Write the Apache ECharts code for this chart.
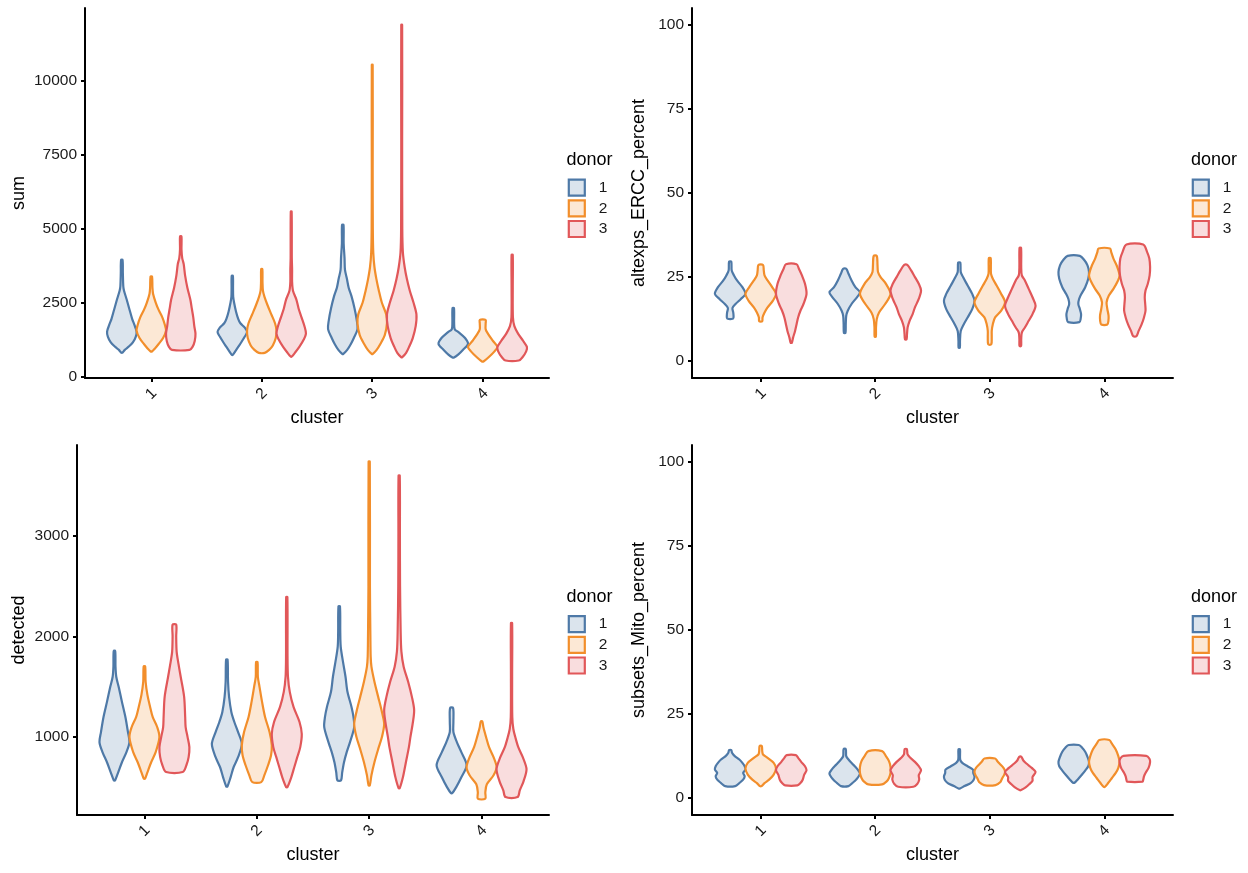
<!DOCTYPE html>
<html><head><meta charset="utf-8">
<script src="https://cdn.jsdelivr.net/npm/echarts@6/dist/echarts.min.js"></script>
<style>html,body{margin:0;padding:0;background:#fff}#c{width:1248px;height:873px}</style>
</head><body><div id="c"></div>
<script>
const clusters = ['1','2','3','4'];
const donors = ['1','2','3'];
const lineColors = ['#4E79A7','#F28E2B','#E15759'];
const fillColors = ['#DBE4ED','#FCE8D5','#F9DDDE'];
const yNames = ['sum','altexps_ERCC_percent','detected','subsets_Mito_percent'];
const yTicks = [[0,2500,5000,7500,10000],[0,25,50,75,100],[1000,2000,3000],[0,25,50,75,100]];
const yRanges = [[-50,12450],[-5,105],[225,3905],[-5,105]];

// violin outlines per cluster: [value, relative half-width]
const sumDonor1 = [
 [[811,0.05],[900,0.2],[1000,0.45],[1150,0.75],[1350,0.95],[1520,1],[1750,0.85],[1950,0.7],[2300,0.5],[2600,0.33],[2900,0.15],[3050,0.1],[3500,0.07],[3942,0.05]],
 [[733,0.04],[850,0.2],[1000,0.4],[1150,0.6],[1350,0.85],[1500,1],[1650,0.85],[1800,0.55],[1950,0.4],[2200,0.25],[2500,0.12],[2700,0.06],[3000,0.05],[3400,0.04]],
 [[767,0.04],[900,0.3],[1100,0.55],[1300,0.75],[1600,1],[1900,0.95],[2300,0.8],[2700,0.6],[3000,0.4],[3300,0.28],[3600,0.15],[4000,0.12],[4500,0.06],[5124,0.05]],
 [[642,0.05],[750,0.35],[900,0.65],[1100,1],[1300,0.8],[1500,0.35],[1600,0.1],[1800,0.06],[2310,0.05]]
];
const sumDonor2 = [
 [[845,0.04],[950,0.25],[1100,0.5],[1300,0.8],[1550,1],[1750,0.92],[2000,0.75],[2250,0.5],[2500,0.3],[2800,0.12],[3000,0.08],[3378,0.05]],
 [[800,0.2],[900,0.5],[1050,0.75],[1300,0.95],[1550,1],[1800,0.9],[2100,0.65],[2400,0.4],[2700,0.18],[2900,0.08],[3200,0.05],[3628,0.04]],
 [[767,0.04],[900,0.3],[1100,0.55],[1400,0.85],[1800,1],[2100,0.95],[2500,0.65],[2900,0.45],[3300,0.28],[3700,0.15],[4200,0.07],[5000,0.04],[7000,0.03],[10529,0.03]],
 [[507,0.05],[650,0.4],[850,0.8],[1000,1],[1200,0.7],[1450,0.35],[1600,0.2],[1800,0.2],[1915,0.2]]
];
const sumDonor3 = [
 [[900,0.6],[1000,0.8],[1200,0.95],[1450,1],[1700,0.92],[2000,0.85],[2300,0.75],[2600,0.65],[3000,0.45],[3400,0.3],[3800,0.2],[4000,0.1],[4300,0.05],[4730,0.05]],
 [[676,0.04],[800,0.25],[1000,0.55],[1250,0.85],[1450,1],[1700,0.9],[2000,0.7],[2300,0.5],[2600,0.35],[2900,0.12],[3200,0.06],[3600,0.06],[4000,0.04],[5574,0.03]],
 [[655,0.04],[800,0.3],[1000,0.5],[1300,0.75],[1700,0.95],[2100,1],[2500,0.8],[2900,0.55],[3300,0.35],[3700,0.2],[4200,0.08],[5000,0.04],[8000,0.03],[11880,0.03]],
 [[540,0.45],[650,0.7],[850,0.95],[1000,1],[1200,0.75],[1450,0.4],[1700,0.15],[2000,0.05],[3000,0.04],[4111,0.04]]
];
const ercDonor1 = [
 [[12.7,0.2],[13.5,0.22],[14.5,0.2],[15.8,0.15],[17,0.35],[18.5,0.7],[20,1],[22,0.8],[24,0.45],[25.5,0.25],[27,0.1],[29.6,0.07]],
 [[8.4,0.05],[11,0.07],[13.5,0.1],[15,0.2],[17,0.45],[19,0.8],[20.5,1],[22,0.7],[24,0.45],[26,0.25],[27.5,0.1]],
 [[4,0.04],[6,0.05],[9,0.1],[11,0.3],[13,0.55],[15.5,0.85],[18,1],[20,0.85],[22.5,0.55],[25,0.25],[26.5,0.1],[29.3,0.07]],
 [[11.6,0.37],[12.5,0.45],[14,0.48],[15.5,0.4],[17,0.3],[18.5,0.35],[20,0.5],[22,0.75],[24.5,0.95],[26.5,1],[28.5,0.9],[30,0.7],[31.3,0.4]]
];
const ercDonor2 = [
 [[11.9,0.1],[13,0.12],[14.5,0.25],[16,0.45],[18,0.8],[20,1],[22,0.75],[24,0.45],[25.5,0.25],[27,0.2],[28.6,0.15]],
 [[7.3,0.04],[10,0.05],[12.5,0.1],[14.5,0.25],[17,0.65],[20,1],[23,0.7],[25,0.35],[26.5,0.18],[28.5,0.15],[31.3,0.1]],
 [[5,0.1],[7,0.13],[9,0.13],[11,0.2],[13,0.35],[15,0.75],[17.5,1],[20,0.75],[22.5,0.45],[24.5,0.2],[26,0.08],[30.6,0.06]],
 [[10.9,0.2],[12,0.27],[13.5,0.28],[15.5,0.2],[17.5,0.15],[19.5,0.3],[21.5,0.6],[24,0.9],[25.5,1],[28,0.85],[30.5,0.6],[32.5,0.45],[33.5,0.38]]
];
const ercDonor3 = [
 [[5.5,0.04],[7,0.12],[9,0.25],[11,0.35],[13,0.45],[15,0.6],[17,0.8],[20,1],[23,0.9],[25.5,0.7],[27.5,0.5],[28.8,0.35]],
 [[6.5,0.05],[8,0.08],[10,0.12],[12,0.25],[14,0.45],[16,0.6],[18.5,0.85],[21,1],[23,0.85],[25,0.6],[27,0.35],[28.6,0.1]],
 [[4.5,0.05],[6.5,0.06],[8.5,0.1],[10,0.3],[12,0.55],[14,0.8],[16.5,1],[19,0.8],[21.5,0.55],[24,0.3],[25.5,0.1],[28,0.06],[33.7,0.05]],
 [[7.4,0.1],[9,0.25],[11,0.45],[13,0.6],[15,0.7],[17,0.68],[19,0.65],[21,0.7],[23,0.85],[25.5,0.97],[28,1],[30.5,0.95],[32.5,0.8],[34.7,0.55]]
];
const detDonor1 = [
 [[569,0.04],[650,0.25],[750,0.5],[850,0.8],[950,1],[1050,0.9],[1200,0.73],[1350,0.5],[1500,0.28],[1600,0.12],[1700,0.07],[1856,0.05]],
 [[509,0.04],[600,0.25],[700,0.45],[800,0.75],[930,1],[1050,0.75],[1150,0.5],[1250,0.3],[1400,0.15],[1550,0.08],[1770,0.05]],
 [[569,0.12],[650,0.2],[750,0.32],[850,0.5],[950,0.72],[1100,1],[1200,0.95],[1300,0.82],[1450,0.55],[1600,0.42],[1750,0.25],[1900,0.1],[2050,0.07],[2300,0.05]],
 [[443,0.05],[500,0.3],[600,0.65],[720,1],[850,0.65],[950,0.35],[1050,0.12],[1150,0.12],[1289,0.1]]
];
const detDonor2 = [
 [[586,0.04],[650,0.2],[750,0.45],[850,0.75],[1000,1],[1100,0.85],[1200,0.55],[1300,0.38],[1420,0.2],[1550,0.08],[1703,0.05]],
 [[552,0.3],[620,0.5],[720,0.75],[820,0.95],[920,1],[1050,0.85],[1200,0.55],[1350,0.35],[1500,0.18],[1600,0.07],[1746,0.05]],
 [[519,0.04],[620,0.15],[750,0.35],[880,0.6],[1000,0.85],[1130,1],[1250,0.85],[1400,0.6],[1550,0.35],[1700,0.15],[1800,0.1],[2000,0.08],[2500,0.05],[3740,0.04]],
 [[387,0.25],[450,0.25],[530,0.35],[620,0.8],[700,1],[800,0.8],[900,0.5],[1000,0.3],[1100,0.12],[1156,0.05]]
];
const detDonor3 = [
 [[652,0.55],[720,0.8],[800,0.95],[900,1],[1000,0.88],[1100,0.75],[1200,0.72],[1400,0.65],[1600,0.42],[1730,0.27],[1850,0.15],[2000,0.12],[2118,0.12]],
 [[502,0.04],[600,0.3],[700,0.5],[800,0.7],[900,0.9],[1030,1],[1150,0.85],[1300,0.45],[1450,0.2],[1600,0.08],[1800,0.05],[2393,0.04]],
 [[493,0.04],[600,0.25],[750,0.45],[900,0.65],[1000,0.75],[1150,0.92],[1270,1],[1400,0.85],[1550,0.6],[1700,0.3],[1850,0.15],[2050,0.1],[2500,0.06],[3000,0.05],[3601,0.04]],
 [[403,0.4],[470,0.55],[560,0.8],[680,1],[800,0.75],[900,0.45],[1000,0.25],[1080,0.12],[1200,0.05],[1600,0.04],[2134,0.04]]
];
const mitoDonor1 = [
 [[3.6,0.33],[4.5,0.6],[5.5,0.85],[6.5,0.95],[7.5,0.85],[8.5,1],[9.5,0.95],[10.5,0.8],[11.5,0.6],[12.5,0.3],[13.5,0.12],[14.3,0.07]],
 [[3.6,0.25],[4.5,0.5],[5.5,0.75],[7.3,1],[8.5,0.85],[10,0.55],[11.5,0.25],[12.5,0.1],[14.6,0.07]],
 [[2.9,0.05],[3.6,0.35],[4.5,0.75],[5.5,0.95],[6.5,1],[7.5,0.92],[8.5,0.9],[9.5,0.55],[10.5,0.2],[11.5,0.06],[14.5,0.05]],
 [[4.6,0.05],[5.5,0.25],[6.8,0.5],[8.2,0.75],[9.5,0.95],[10.8,1],[12.3,0.9],[13.8,0.75],[15,0.55],[15.8,0.33]]
];
const mitoDonor2 = [
 [[3.6,0.05],[4.5,0.25],[5.5,0.55],[7,0.85],[8.8,1],[10.5,0.85],[12,0.45],[13,0.15],[14,0.1],[15.5,0.07]],
 [[4.1,0.45],[5,0.75],[6,0.9],[7.5,1],[9.3,1],[11,0.9],[12.5,0.7],[14,0.45]],
 [[3.9,0.38],[4.8,0.7],[5.8,0.8],[7,0.95],[8,1],[9,0.9],[10,0.7],[11,0.5],[11.8,0.35]],
 [[3.4,0.05],[4.5,0.25],[6,0.5],[7.5,0.75],[9,0.92],[10.8,1],[12.5,0.92],[14.5,0.75],[16.2,0.5],[17.3,0.33]]
];
const mitoDonor3 = [
 [[3.8,0.4],[4.5,0.6],[5.5,0.75],[7,0.85],[8.3,1],[9.5,0.9],[10.8,0.65],[12,0.45],[12.8,0.3]],
 [[3.4,0.5],[4.2,0.75],[5.5,0.88],[6.8,0.85],[8.3,1],[9.5,0.85],[10.8,0.6],[12,0.3],[13,0.12],[14.6,0.07]],
 [[2.4,0.05],[3.2,0.35],[4.2,0.6],[5.2,0.8],[6.3,0.8],[7.8,1],[9,0.75],[10.3,0.4],[11.2,0.2],[12.3,0.07]],
 [[4.9,0.5],[5.5,0.55],[6.5,0.6],[7.5,0.7],[9,0.9],[10.8,1],[11.8,0.95],[12.6,0.75]]
];

const profiles = [
  [sumDonor1, sumDonor2, sumDonor3],
  [ercDonor1, ercDonor2, ercDonor3],
  [detDonor1, detDonor2, detDonor3],
  [mitoDonor1, mitoDonor2, mitoDonor3]
];

// layout
const grids = [
  {left:85, top:8, width:464, height:370},
  {left:692, top:8, width:481, height:370},
  {left:77, top:445, width:472, height:370},
  {left:692, top:445, width:481, height:370}
];
const yNameGaps = [57, 44, 49, 44];
const legendPos = [[567.7,178.5],[1191.7,178.5],[567.7,615],[1191.7,615]];
const legendTitlePos = [[566.5,151],[1191,151],[566.5,588],[1191,588]];
const DODGE = 0.8/3, HALF = 0.4/3;
const FONT = '"Liberation Sans", Arial, Helvetica, sans-serif';
const TICK_FS = 15.5;

const chart = echarts.init(document.getElementById('c'), null, {renderer:'canvas'});

const xAxes = grids.map((g,i)=>({
  type:'value', gridIndex:i, min:0.4, max:4.6,
  name:'cluster', nameLocation:'middle', nameGap:31,
  nameTextStyle:{fontSize:18, color:'#000', fontFamily:FONT},
  axisLine:{show:true, onZero:false, lineStyle:{color:'#000', width:2}},
  axisTick:{show:true, customValues:[1,2,3,4], length:4, lineStyle:{color:'#000', width:2}},
  axisLabel:{customValues:[1,2,3,4], rotate:45, align:'center', verticalAlign:'middle', margin:16,
    formatter:(v)=>clusters[Math.round(v)-1], fontSize:TICK_FS, color:'#1a1a1a', fontFamily:FONT},
  splitLine:{show:false}
}));
const yAxes = grids.map((g,i)=>({
  type:'value', gridIndex:i, min:yRanges[i][0], max:yRanges[i][1],
  name:yNames[i], nameLocation:'middle', nameGap:yNameGaps[i],
  nameTextStyle:{fontSize:18, color:'#000', fontFamily:FONT},
  axisLine:{show:true, onZero:false, lineStyle:{color:'#000', width:2}},
  axisTick:{show:true, customValues:yTicks[i], length:4, lineStyle:{color:'#000', width:2}},
  axisLabel:{customValues:yTicks[i], margin:8, fontSize:TICK_FS, color:'#1a1a1a', fontFamily:FONT,
    formatter:(v)=>String(v)},
  splitLine:{show:false}
}));

const series = [];
profiles.forEach((panel, p) => {
  panel.forEach((donorProfiles, d) => {
    series.push({
      type:'custom', name:donors[d], coordinateSystem:'cartesian2d',
      xAxisIndex:p, yAxisIndex:p,
      itemStyle:{color:fillColors[d], borderColor:lineColors[d], borderWidth:2},
      encode:{x:0, y:[2,3]},
      data: donorProfiles.map((prof,c)=>[c+1, d, prof[0][0], prof[prof.length-1][0]]),
      renderItem:(params, api) => {
        const c = api.value(0);
        const prof = donorProfiles[c-1];
        const cx = c + (d-1)*DODGE;
        const right = prof.map(([v,w]) => api.coord([cx + w*HALF, v]));
        const left = prof.map(([v,w]) => api.coord([cx - w*HALF, v])).reverse();
        return {
          type:'polygon',
          shape:{points:right.concat(left), smooth:0.3},
          style:{fill:fillColors[d], stroke:lineColors[d], lineWidth:2.2, lineJoin:'round'}
        };
      }
    });
  });
});

const legends = legendPos.map(([l,t])=>({
  orient:'vertical', left:l, top:t, padding:0,
  itemWidth:16, itemHeight:16, itemGap:2.5, selectedMode:false,
  data: donors.map((d,j)=>({name:d, icon:'rect',
    itemStyle:{color:fillColors[j], borderColor:lineColors[j], borderWidth:2.2}})),
  textStyle:{fontSize:TICK_FS, lineHeight:16, color:'#1a1a1a', fontFamily:FONT, padding:[0,0,0,9]}
}));
const titles = legendTitlePos.map(([l,t])=>({
  text:'donor', left:l, top:t, padding:0,
  textStyle:{fontSize:18, fontWeight:'normal', color:'#000', fontFamily:FONT}
}));

chart.setOption({
  animation:false,
  backgroundColor:'#fff',
  textStyle:{fontFamily:FONT},
  title:titles,
  legend:legends,
  grid:grids.map(g=>Object.assign({containLabel:false, outerBoundsMode:'none'}, g)),
  xAxis:xAxes,
  yAxis:yAxes,
  series:series
});
</script></body></html>
